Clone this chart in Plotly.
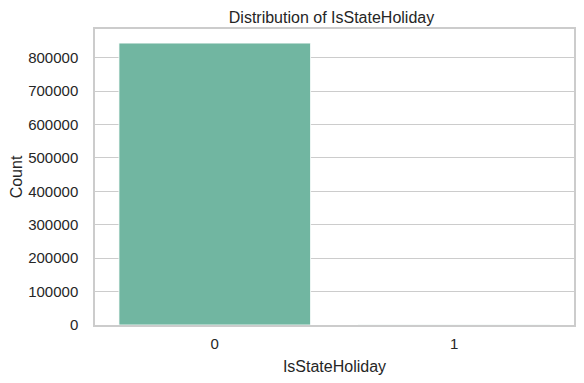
import plotly.graph_objects as go

categories = ["0", "1"]
counts = [843482, 910]
tick_vals = [0, 100000, 200000, 300000, 400000, 500000, 600000, 700000, 800000]

bar_color = "#71b6a1"
grid_color = "#cccccc"
text_color = "#262626"
font_family = "Liberation Sans, Arial, sans-serif"

W, H = 584, 383
# page body has an 8px default margin; compensate so the plot lands where intended
OFF = 8
plot_l, plot_r, plot_t, plot_b = 95, 574, 29, 325

fig = go.Figure(
    go.Bar(
        x=[0, 1],
        y=counts,
        width=0.8,
        marker=dict(color=bar_color, line=dict(color="#ffffff", width=0.8)),
    )
)

fig.update_layout(
    width=W,
    height=H,
    margin=dict(
        l=plot_l - OFF,
        r=W - (plot_r - OFF),
        t=plot_t - OFF,
        b=H - (plot_b - OFF),
        autoexpand=False,
    ),
    paper_bgcolor="white",
    plot_bgcolor="white",
    font=dict(family=font_family, color=text_color, size=15),
    title=dict(
        text="Distribution of IsStateHoliday",
        x=(331.5 - OFF) / W,
        xanchor="center",
        y=1 - (17 - OFF) / H,
        yanchor="middle",
        font=dict(size=16, color=text_color),
    ),
    showlegend=False,
)

fig.update_xaxes(
    range=[-0.5, 1.5],
    tickvals=[0, 1],
    ticktext=categories,
    showgrid=False,
    showline=True,
    linecolor=grid_color,
    linewidth=1.5,
    mirror=True,
    ticks="",
    ticklabelstandoff=4,
    automargin=False,
    title=dict(text="IsStateHoliday", font=dict(size=16, color=text_color), standoff=10),
    zeroline=False,
)

fig.update_yaxes(
    range=[0, max(counts) * 1.05],
    tickvals=tick_vals,
    ticktext=[str(v) for v in tick_vals],
    showgrid=True,
    gridcolor=grid_color,
    gridwidth=1,
    showline=True,
    linecolor=grid_color,
    linewidth=1.5,
    mirror=True,
    ticks="",
    ticklabelstandoff=12,
    automargin=False,
    title=dict(text="Count", font=dict(size=16, color=text_color), standoff=8),
    zeroline=False,
)

fig.write_html("out.html")
